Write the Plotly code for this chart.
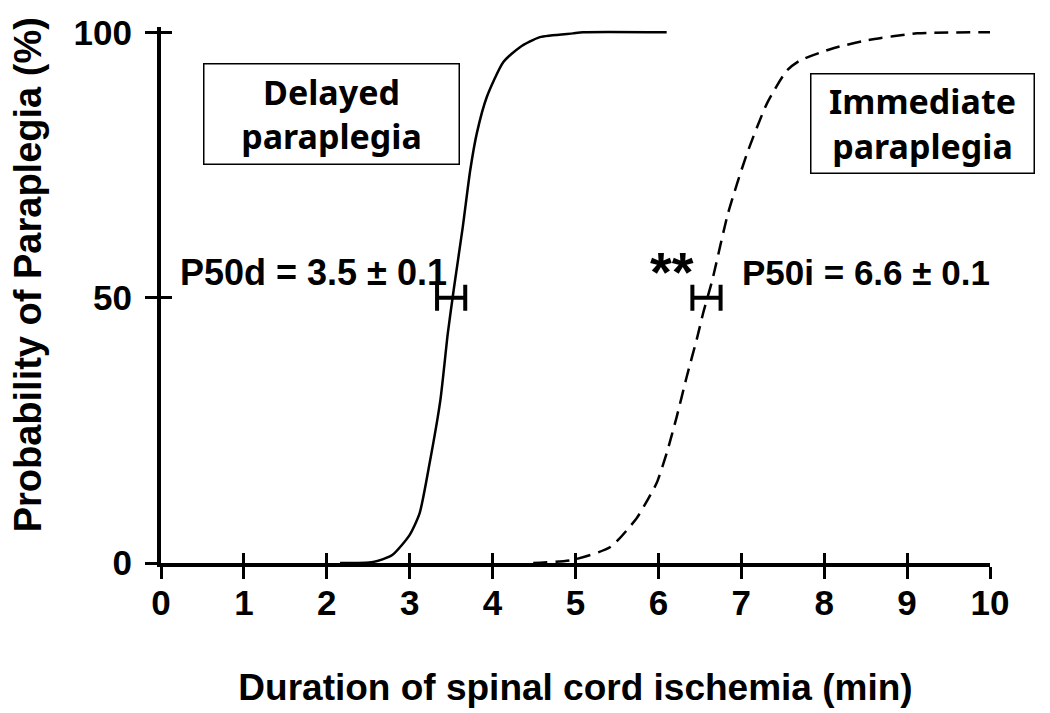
import plotly.graph_objects as go

# Delayed paraplegia (solid)
delayed_x = [2.16, 2.56, 2.79, 3.00, 3.12, 3.24, 3.37, 3.46, 3.53, 3.64, 3.73, 3.81, 3.93, 4.13, 4.33, 4.57, 4.97, 5.09, 6.10]
delayed_y = [0.0, 0.2, 1.5, 5.3, 9.4, 18.8, 30.7, 43.3, 51.4, 63.3, 74.0, 81.0, 87.8, 94.4, 97.2, 99.1, 99.8, 100.0, 100.0]

# Immediate paraplegia (dashed)
immediate_x = [4.49, 4.97, 5.42, 5.74, 5.87, 5.98, 6.10, 6.22, 6.34, 6.47, 6.54, 6.65, 6.84, 7.07, 7.31, 7.55, 7.71, 8.11, 8.52, 9.12, 10.0]
immediate_y = [0.0, 0.6, 3.0, 8.5, 11.9, 15.1, 20.7, 27.5, 35.0, 42.6, 47.1, 53.3, 65.9, 77.2, 86.6, 92.8, 94.7, 97.0, 98.5, 99.8, 100.0]

# P50 values with error bars
p50_x = [3.50, 6.58]
p50_y = [50, 50]
p50_err = [0.17, 0.17]

x_ticks = list(range(0, 11))
y_ticks = [0, 50, 100]

FONT = "Liberation Sans, Arial, sans-serif"
BOXFONT = "Noto Sans, Open Sans, sans-serif"

fig = go.Figure()
fig.add_trace(go.Scatter(x=delayed_x, y=delayed_y, mode="lines",
                         line=dict(color="black", width=2.5, shape="spline", smoothing=0.6),
                         showlegend=False, hoverinfo="skip"))
fig.add_trace(go.Scatter(x=immediate_x, y=immediate_y, mode="lines",
                         line=dict(color="black", width=2.5, dash="14px,8px", shape="spline", smoothing=0.6),
                         showlegend=False, hoverinfo="skip"))
fig.add_trace(go.Scatter(x=p50_x, y=p50_y, mode="markers",
                         marker=dict(size=1, color="rgba(0,0,0,0)"),
                         error_x=dict(type="data", array=p50_err, color="black", thickness=4, width=13),
                         showlegend=False, hoverinfo="skip"))
# invisible trace for overlay axes (inside ticks)
fig.add_trace(go.Scatter(x=[0], y=[0], xaxis="x2", yaxis="y2", mode="markers",
                         marker=dict(size=1, color="rgba(0,0,0,0)"), showlegend=False, hoverinfo="skip"))

axis_common = dict(showgrid=False, zeroline=False, showline=True, linecolor="black", linewidth=4,
                   tickcolor="black", tickwidth=3, automargin=False)

fig.update_layout(
    width=1050, height=713,
    margin=dict(l=153, r=68, t=19, b=158),
    paper_bgcolor="white", plot_bgcolor="white",
    xaxis=dict(range=[0, 10], tickvals=x_ticks, ticktext=[str(v) for v in x_ticks],
               ticks="outside", ticklen=12, ticklabelstandoff=-6,
               tickfont=dict(family=FONT, size=35, color="black", weight="bold"),
               title=dict(text="Duration of spinal cord ischemia (min)", standoff=54,
                          font=dict(family=FONT, size=37, color="black", weight="bold")),
               **axis_common),
    yaxis=dict(range=[0, 101], tickvals=y_ticks, ticktext=[str(v) for v in y_ticks],
               ticks="outside", ticklen=12, ticklabelstandoff=6,
               tickfont=dict(family=FONT, size=35, color="black", weight="bold"),
               **axis_common),
    xaxis2=dict(range=[0, 10], overlaying="x", anchor="y", tickvals=x_ticks, showticklabels=False,
                ticks="inside", ticklen=10, showgrid=False, zeroline=False, showline=False,
                tickcolor="black", tickwidth=3, automargin=False),
    yaxis2=dict(range=[0, 101], overlaying="y", anchor="x", tickvals=y_ticks, showticklabels=False,
                ticks="inside", ticklen=11, showgrid=False, zeroline=False, showline=False,
                tickcolor="black", tickwidth=3, automargin=False),
    annotations=[
        dict(x=-0.16, y=0.5373, xref="paper", yref="paper", text="Probability of Paraplegia (%)",
             textangle=-90, showarrow=False, xanchor="center", yanchor="middle",
             font=dict(family=FONT, size=38, color="black", weight="bold")),
        dict(x=2.06, y=84.7, xref="x", yref="y", text="Delayed<br>paraplegia", showarrow=False,
             font=dict(family=BOXFONT, size=34, color="black", weight="bold"),
             bordercolor="black", borderwidth=1.5, borderpad=0, width=254, height=99,
             bgcolor="white", align="center"),
        dict(x=9.19, y=82.8, xref="x", yref="y", text="Immediate<br>paraplegia", showarrow=False,
             font=dict(family=BOXFONT, size=34, color="black", weight="bold"),
             bordercolor="black", borderwidth=1.5, borderpad=0, width=222, height=98,
             bgcolor="white", align="center"),
        dict(x=0.205, y=54.8, xref="x", yref="y", text="P50d = 3.5 ± 0.1", showarrow=False,
             xanchor="left", font=dict(family=FONT, size=36, color="black", weight="bold")),
        dict(x=6.98, y=54.8, xref="x", yref="y", text="P50i = 6.6 ± 0.1", showarrow=False,
             xanchor="left", font=dict(family=FONT, size=35, color="black", weight="bold")),
        dict(x=6.17, y=55.0, xref="x", yref="y", text="**", showarrow=False,
             font=dict(family=FONT, size=56, color="black", weight="bold")),
    ],
)

fig.write_html("out.html")
